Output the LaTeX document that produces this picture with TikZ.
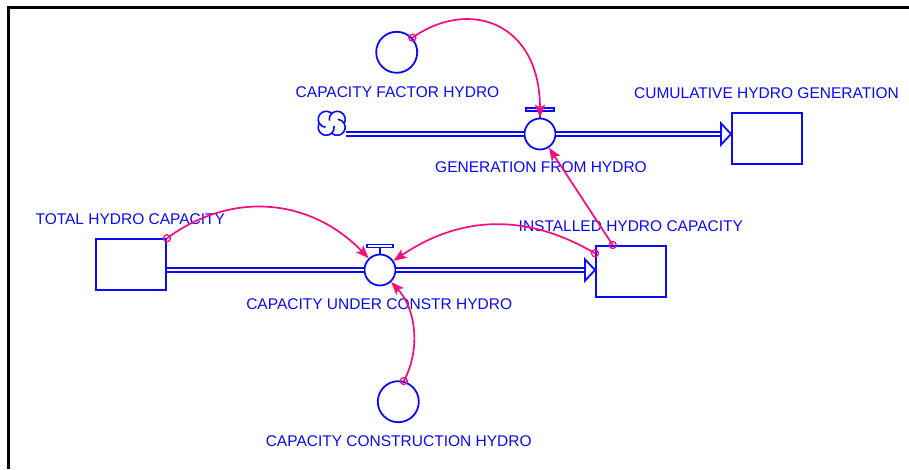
\documentclass[tikz,border=0pt]{standalone}
\usepackage{fontspec}
\setmainfont{Liberation Sans}
\usetikzlibrary{arrows.meta,calc}
\definecolor{vblue}{RGB}{10,10,255}
\definecolor{vpink}{RGB}{250,10,125}
\begin{document}
\begin{tikzpicture}[x=1pt,y=-1pt,
  lbl/.style={text=vblue,font=\fontsize{15.5}{16}\selectfont,anchor=base,inner sep=0pt},
  auxv/.style={circle,draw=vblue,line width=1.8pt,minimum size=41pt,inner sep=0pt},
  valve/.style={circle,draw=vblue,fill=white,line width=1.8pt,minimum size=31pt,inner sep=0pt},
  stock/.style={rectangle,draw=vblue,fill=white,line width=2pt,minimum width=70pt,minimum height=51pt,inner sep=0pt},
  pipe/.style={draw=vblue,double=white,double distance=2.4pt,line width=1.4pt},
  pipehead/.style={draw=vblue,fill=white,line width=1.8pt,line join=miter},
  handle/.style={draw=vblue,fill=white,line width=1.5pt},
  cloudline/.style={draw=vblue,line width=1.6pt},
  link/.style={draw=vpink,line width=1.7pt,-{Stealth[length=13pt,width=10pt,inset=3pt]}},
  origin/.style={draw=vpink,line width=1.3pt}]
\useasboundingbox (0,0) rectangle (909,469);
\fill[white] (0,0) rectangle (909,469);
% frame
\draw[black,line width=2.7pt] (8.7,469) -- (8.7,7.3) -- (909,7.3);

% nodes
\node[auxv] (cf) at (396.7,52.3) {};
\node[auxv] (cc) at (398.3,401.7) {};
\node[valve] (gv) at (540,134) {};
\node[valve] (cv) at (380,270) {};
\node[stock] (cum) at (767,138.5) {};
\node[stock] (tb) at (131,264.7) {};
\node[stock] (ib) at (631,271.5) {};

% labels
\node[lbl] (lcf) at (397.5,97.3) {CAPACITY FACTOR HYDRO};
\node[lbl] (lcum) at (766.5,98.3) {CUMULATIVE HYDRO GENERATION};
\node[lbl] (lgv) at (541,172.7) {GENERATION FROM HYDRO};
\node[lbl] (ltb) at (130.3,224.3) {TOTAL HYDRO CAPACITY};
\node[lbl] (lib) at (630.8,231) {INSTALLED HYDRO CAPACITY};
\node[lbl] (lcv) at (379.2,309) {CAPACITY UNDER CONSTR HYDRO};
\node[lbl] (lcc) at (398.7,446.7) {CAPACITY CONSTRUCTION HYDRO};

% cloud (source)
\begin{scope}[shift={(331.7,123.3)}]
  \draw[cloudline,fill=white] (-12.43,0)
    arc[start angle=150,end angle=313.4,radius=8]
    arc[start angle=226.6,end angle=390,radius=8]
    arc[start angle=-30,end angle=133.4,radius=8]
    arc[start angle=46.6,end angle=210,radius=8] -- cycle;
  \draw[cloudline] (0,-9.81) arc[start angle=226.6,end angle=170,radius=8];
  \draw[cloudline] (12.43,0) arc[start angle=-30,end angle=-86,radius=8];
  \draw[cloudline] (0,9.81) arc[start angle=46.6,end angle=-9.4,radius=8];
  \draw[cloudline] (-12.43,0) arc[start angle=150,end angle=94,radius=8];
\end{scope}
\coordinate (clr) at (346,134);

% pipes
\coordinate (cumtip) at (cum.west|-gv);
\coordinate (ibtip) at (ib.west|-cv);
\draw[pipe] (clr) -- (gv);
\draw[pipe] (gv) -- ($(cumtip)+(-10,0)$);
\draw[pipehead] ($(cumtip)+(-10,-10.7)$) -- (cumtip) -- ($(cumtip)+(-10,10.7)$) -- cycle;
\draw[pipe] (tb.east|-cv) -- (cv);
\draw[pipe] (cv) -- ($(ibtip)+(-10,0)$);
\draw[pipehead] ($(ibtip)+(-10,-10.7)$) -- (ibtip) -- ($(ibtip)+(-10,10.7)$) -- cycle;

% valve handles
\draw[handle] ($(gv.north)+(-14,-9.5)$) rectangle ($(gv.north)+(14,-6.5)$);
\draw[handle] ($(gv.north)+(0,-6.5)$) -- (gv.north);
\draw[handle] ($(cv.north)+(-13,-9)$) rectangle ($(cv.north)+(13,-6)$);
\draw[handle] ($(cv.north)+(0,-6)$) -- (cv.north);

% connectors
\coordinate (ibt) at ($(ib.north)+(-18.3,0)$);
\coordinate (ibl) at ($(ib.west)+(0,-18.2)$);
\draw[link] (cf.43) .. controls +(57.3,-40.2) and +(0,-95) .. (gv.north);
\draw[link] (ibt) -- (gv);
\draw[link] (tb.north east) .. controls +(66.2,-48.4) and +(-68.6,-71.1) .. (cv);
\draw[link] (ibl) .. controls +(-69,-40.6) and +(80.3,-54.5) .. (cv);
\draw[link] (cc.75) .. controls +(17.4,-32.5) and +(35.6,38.2) .. (cv);

% connector origins
\draw[origin] (cf.43) circle (3.5);
\draw[origin] (ibt) circle (3.5);
\draw[origin] (tb.north east) circle (3.5);
\draw[origin] (ibl) circle (3.5);
\draw[origin] (cc.75) circle (3.5);
\end{tikzpicture}
\end{document}
